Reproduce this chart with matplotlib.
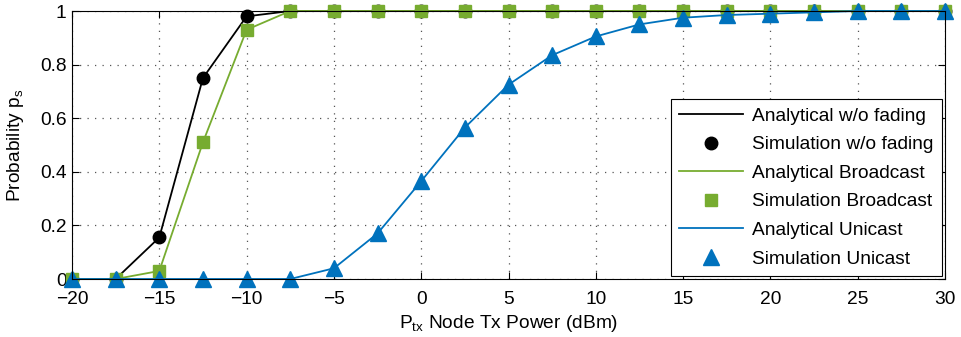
import numpy as np
import matplotlib.pyplot as plt

plt.rcParams['font.family'] = ['Liberation Sans', 'DejaVu Sans']
plt.rcParams['mathtext.fontset'] = 'custom'
plt.rcParams['mathtext.rm'] = 'Liberation Sans'
plt.rcParams['mathtext.it'] = 'Liberation Sans'

# tx power (dBm)
ptx = np.arange(-20, 30.1, 2.5)

# success probability
p_nofade = [0, 0, 0.155, 0.75, 0.98, 1, 1, 1, 1, 1, 1,
            1, 1, 1, 1, 1, 1, 1, 1, 1, 1]
p_bcast = [0, 0, 0.03, 0.51, 0.93, 1, 1, 1, 1, 1, 1,
           1, 1, 1, 1, 1, 1, 1, 1, 1, 1]
p_ucast = [0, 0, 0, 0, 0, 0, 0.04, 0.17, 0.365, 0.565, 0.725,
           0.835, 0.905, 0.95, 0.975, 0.985, 0.99, 0.995, 1, 1, 1]

black = 'k'
green = '#77AC30'
blue = '#0072BD'
fs = 13.8

fig = plt.figure(figsize=(9.61, 3.37), dpi=100)
ax = fig.add_axes([72/961, 1-279/337, (945-72)/961, (279-11)/337])

ax.plot(ptx, p_nofade, color=black, lw=1.3, label='Analytical w/o fading', clip_on=False)
ax.plot(ptx, p_nofade, color=black, ls='none', marker='o', ms=9,
        label='Simulation w/o fading', clip_on=False)
ax.plot(ptx, p_bcast, color=green, lw=1.3, label='Analytical Broadcast', clip_on=False)
ax.plot(ptx, p_bcast, color=green, ls='none', marker='s', ms=9,
        label='Simulation Broadcast', clip_on=False)
ax.plot(ptx, p_ucast, color=blue, lw=1.3, label='Analytical Unicast', clip_on=False)
ax.plot(ptx, p_ucast, color=blue, ls='none', marker='^', ms=11,
        label='Simulation Unicast', clip_on=False)

ax.set_xlim(-20, 30)
ax.set_ylim(0, 1)
ax.set_xticks(np.arange(-20, 31, 5))
ax.set_yticks(np.arange(0, 1.01, 0.2))
ax.set_yticklabels(['0', '0.2', '0.4', '0.6', '0.8', '1'])
ax.set_xticklabels(['\u221220', '\u221215', '\u221210', '\u22125', '0', '5',
                    '10', '15', '20', '25', '30'])
ax.tick_params(direction='in', top=True, right=True, labelsize=fs, length=5)
ax.tick_params(axis='x', pad=9)
ax.tick_params(axis='y', pad=4)
ax.grid(True, ls=(0, (1, 5)), color='#555555', lw=0.9)

ax.set_xlabel('P$_{\\rm tx}$ Node Tx Power (dBm)', fontsize=fs, labelpad=3)
ax.set_ylabel('Probability p$_{\\rm s}$', fontsize=fs, labelpad=10)

leg = ax.legend(loc='lower right', fontsize=fs, fancybox=False,
                edgecolor='k', framealpha=1, borderaxespad=0.15,
                handlelength=3.3, labelspacing=0.58, borderpad=0.45,
                handletextpad=0.5)
leg.get_frame().set_linewidth(0.8)

fig.savefig('out.png', dpi=100)
